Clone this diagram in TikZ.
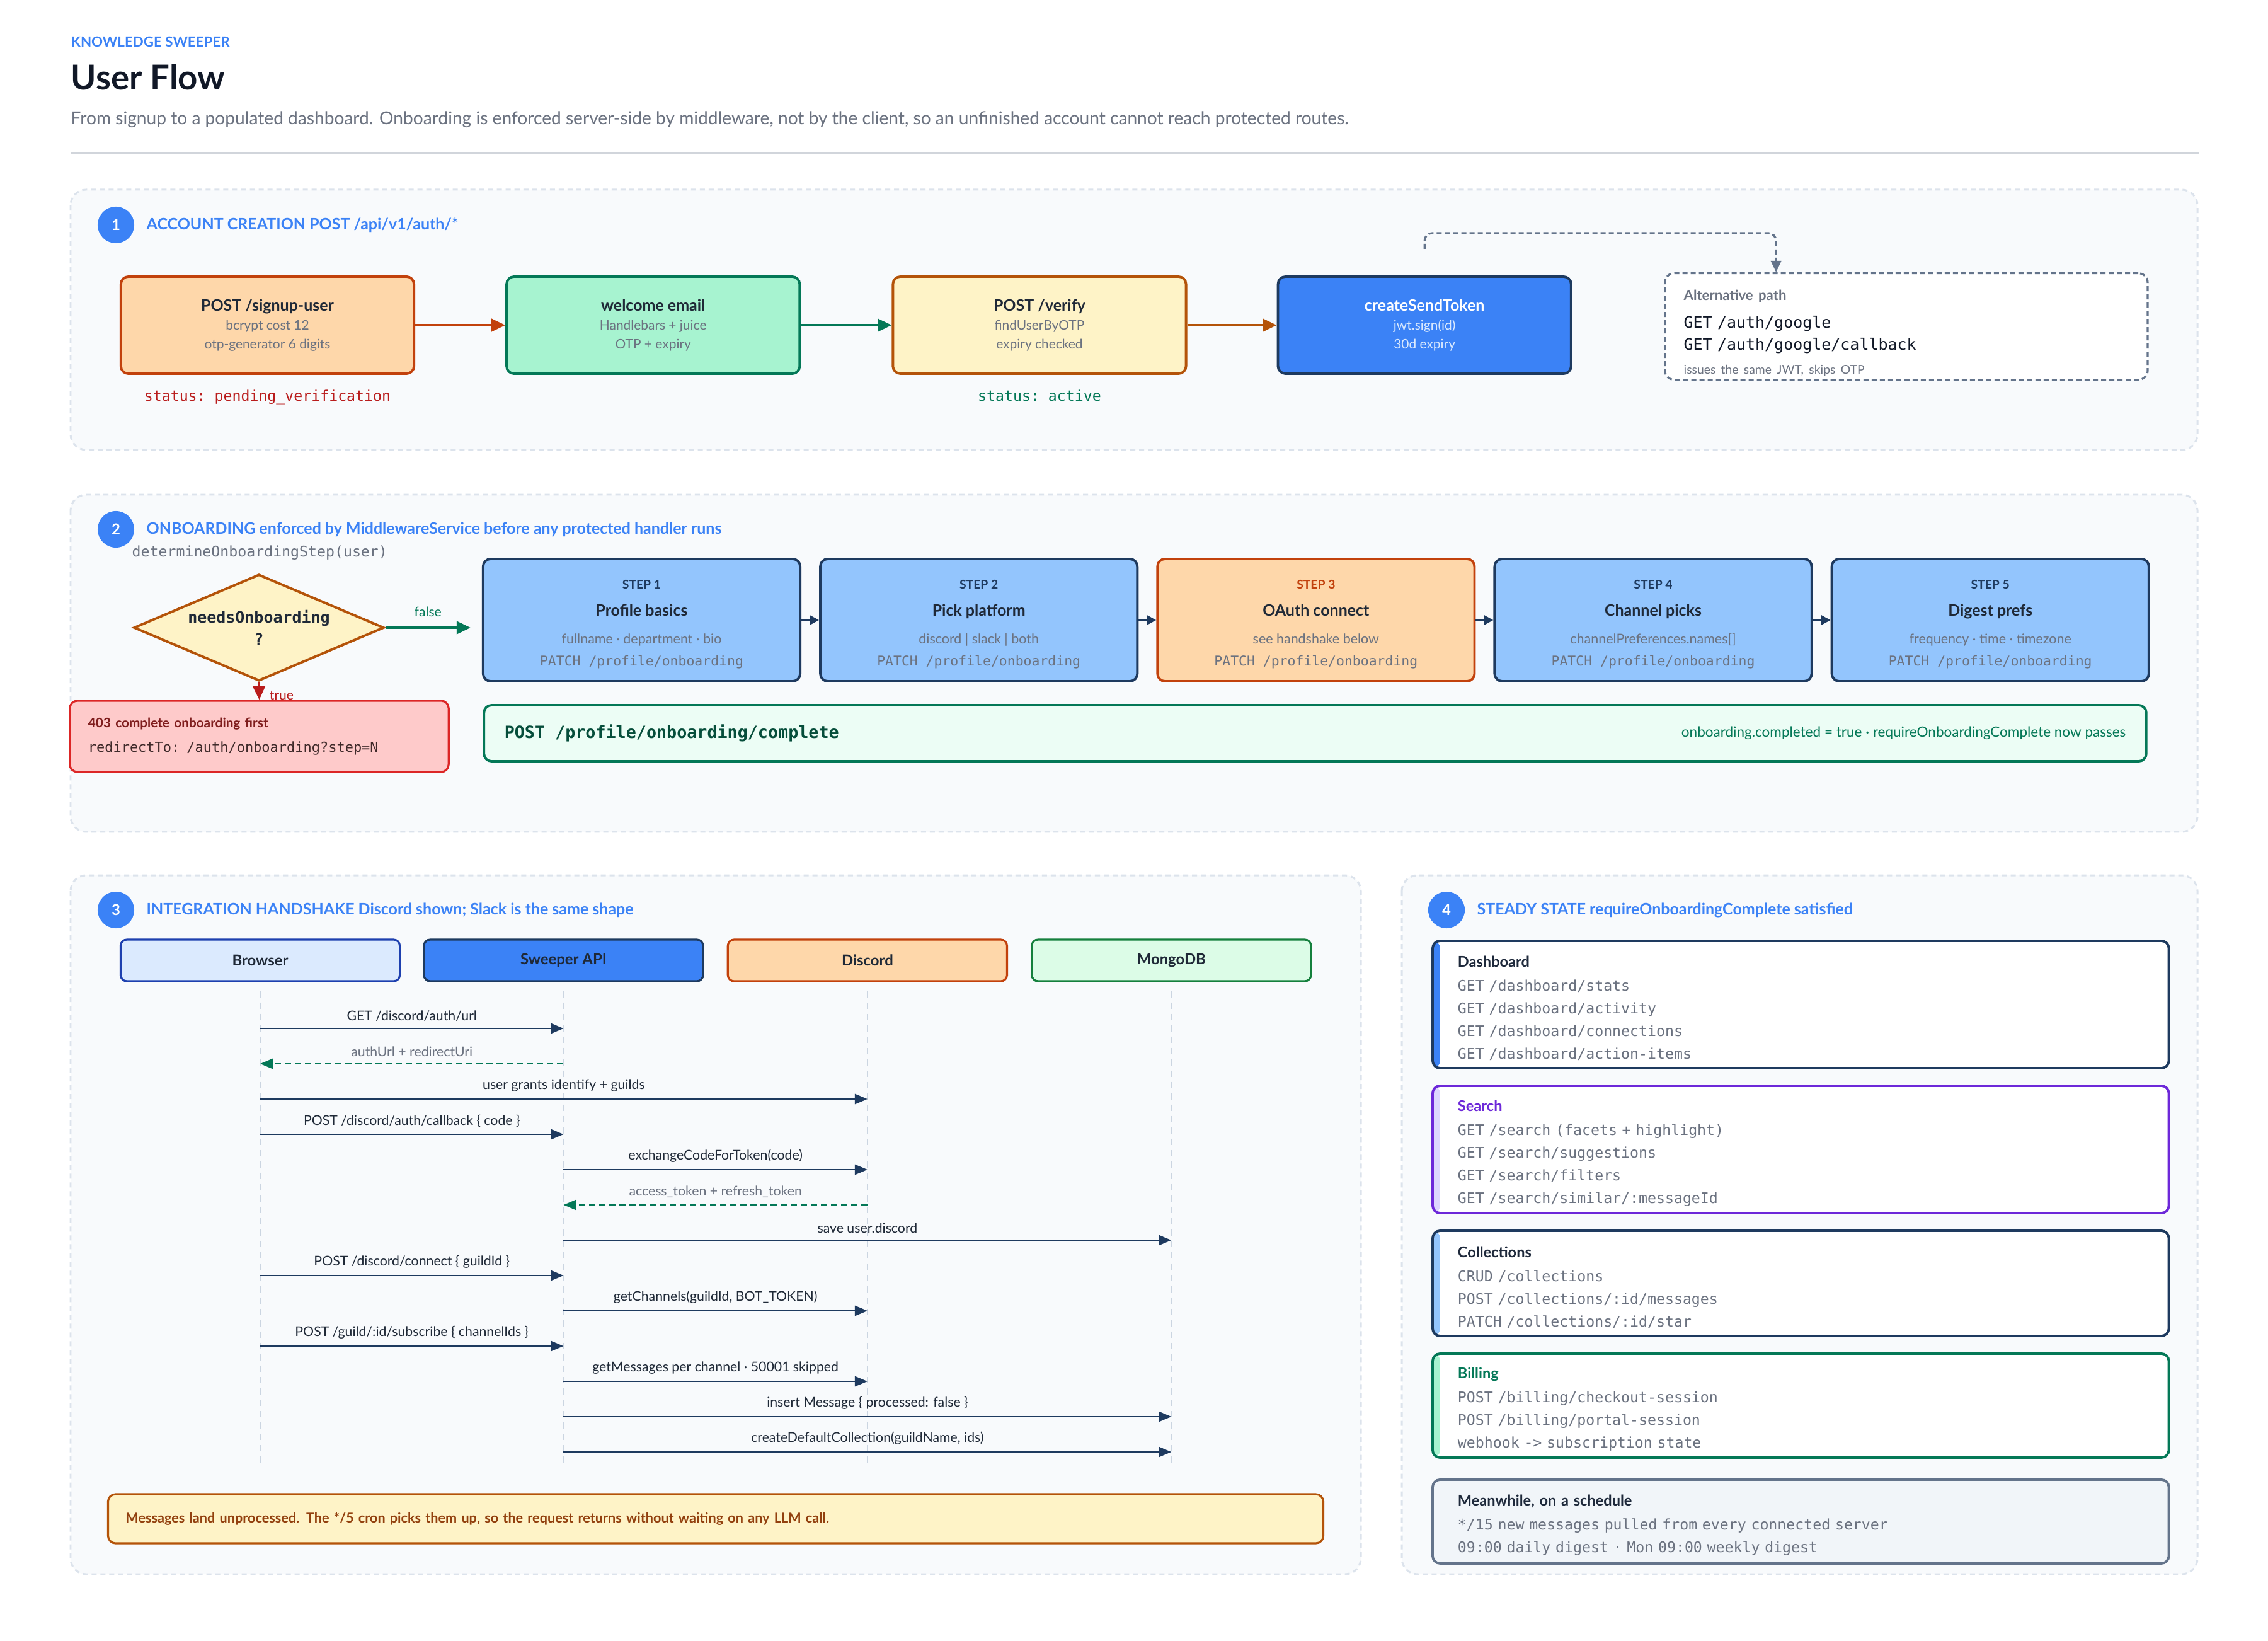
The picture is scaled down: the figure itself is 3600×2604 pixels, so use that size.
\documentclass[tikz,border=0pt]{standalone}
\usepackage{fontspec}
\setmainfont{Lato}
\setmonofont{DejaVu Sans Mono}
\usepackage{xcolor}
\usepackage{tikz}
\usetikzlibrary{arrows.meta, positioning, shapes.geometric, calc}

\definecolor{accent}{HTML}{3B82F6}
\definecolor{ink}{HTML}{1F2937}
\definecolor{titleink}{HTML}{111827}
\definecolor{cardink}{HTML}{1E293B}
\definecolor{muted}{HTML}{6B7280}
\definecolor{navy}{HTML}{1E3A5F}
\definecolor{rulegray}{HTML}{D1D5DB}
\definecolor{panelbg}{HTML}{F8FAFC}
\definecolor{panelln}{HTML}{DCE3EC}
\definecolor{orgfill}{HTML}{FED7AA}
\definecolor{orgline}{HTML}{C2410C}
\definecolor{mintfill}{HTML}{A7F3D0}
\definecolor{grnline}{HTML}{047857}
\definecolor{ambfill}{HTML}{FEF3C7}
\definecolor{ambline}{HTML}{B45309}
\definecolor{stepfill}{HTML}{93C5FD}
\definecolor{redfill}{HTML}{FECACA}
\definecolor{redline}{HTML}{DC2626}
\definecolor{redtxt}{HTML}{B91C1C}
\definecolor{denyttl}{HTML}{7F1D1D}
\definecolor{denyink}{HTML}{3F2A2A}
\definecolor{tokensub}{HTML}{DBEAFE}
\definecolor{donefill}{HTML}{ECFDF5}
\definecolor{doneink}{HTML}{064E3B}
\definecolor{brwfill}{HTML}{DBEAFE}
\definecolor{brwline}{HTML}{1E40AF}
\definecolor{mdbfill}{HTML}{DCFCE7}
\definecolor{mdbline}{HTML}{15803D}
\definecolor{noteink}{HTML}{92400E}
\definecolor{schedfill}{HTML}{F1F5F9}
\definecolor{slate}{HTML}{64748B}
\definecolor{lifeln}{HTML}{CBD5E1}
\definecolor{srchline}{HTML}{6D28D9}
\definecolor{srchbar}{HTML}{DDD6FE}

\newcommand\fsz[2]{\fontsize{#1}{#2}\selectfont}
\newcommand\subln[2][muted]{{\fsz{5.95}{8.5}\mdseries\color{#1}#2}}
\newcommand\steplbl[2][navy]{{\rule{0pt}{8pt}\fsz{5.5}{8}\bfseries\color{#1}#2}}
\newcommand\stepsub[1]{{\fsz{6.1}{8}\mdseries\color{muted}#1}}
\newcommand\monoln[1]{{\fsz{6.1}{8}\mdseries\ttfamily\color{muted}#1}}
\newcommand\cardttl[2][cardink]{{\rule{0pt}{8.4pt}\fsz{6.7}{10}\rmfamily\bfseries\color{#1}#2}}

\begin{document}
\begin{tikzpicture}[
  x=0.01cm, y=-0.01cm,
  every node/.style = {text=ink, font=\fsz{6}{8}},
  panel/.style = {draw=panelln, fill=panelbg, line width=0.85pt,
    dash pattern=on 0.08cm off 0.06cm, rounded corners=0.25cm},
  badge/.style = {circle, fill=accent, text=white, minimum size=0.58cm,
    inner sep=0, font=\fsz{6.8}{8}\bfseries},
  sechead/.style = {anchor=west, inner sep=0, text=accent, font=\fsz{7.1}{8}\bfseries},
  flowbox/.style = {rectangle, rounded corners=0.12cm, line width=1.1pt,
    minimum width=4.65cm, minimum height=1.54cm, align=center,
    font=\fsz{7.1}{8.5}\bfseries},
  status/.style = {inner sep=0, font=\fsz{6.6}{8}\ttfamily},
  flowarr/.style = {-{Triangle[length=0.22cm, width=0.2cm]}, line width=1.1pt},
  altbox/.style = {rectangle, rounded corners=0.15cm, draw=slate, fill=white,
    line width=0.9pt, dash pattern=on 0.08cm off 0.05cm,
    minimum width=7.66cm, minimum height=1.69cm, inner xsep=0.3cm, inner ysep=0,
    text width=7.06cm, align=left, font=\fsz{7.1}{10}\ttfamily, text=titleink},
  altarr/.style = {-{Triangle[length=0.18cm, width=0.16cm]}, draw=slate,
    line width=0.9pt, dash pattern=on 0.08cm off 0.05cm, rounded corners=0.12cm},
  decision/.style = {diamond, aspect=2.35, fill=ambfill, draw=ambline, line width=1.1pt,
    minimum width=3.97cm, minimum height=1.69cm, inner sep=0, align=center,
    font=\fsz{7.1}{10}\ttfamily\bfseries},
  stepbox/.style = {rectangle, rounded corners=0.12cm, line width=1.1pt,
    fill=stepfill, draw=navy, minimum width=5.03cm, minimum height=1.94cm,
    align=center, font=\fsz{7.1}{12.2}\bfseries},
  steparr/.style = {-{Triangle[length=0.15cm, width=0.15cm]}, line width=1.1pt, navy},
  actor/.style = {rectangle, rounded corners=0.1cm, line width=0.9pt,
    minimum width=4.43cm, minimum height=0.66cm, font=\fsz{6.8}{8}\bfseries},
  lifeline/.style = {draw=lifeln, line width=0.55pt, dash pattern=on 0.1cm off 0.08cm},
  msg/.style = {-{Triangle[length=0.2cm, width=0.16cm]}, line width=0.75pt, navy},
  reply/.style = {msg, grnline, dash pattern=on 0.1cm off 0.06cm},
  msglbl/.style = {above, inner sep=0.1cm, font=\fsz{6.05}{7}, text=ink},
  card/.style = {rectangle, rounded corners=0.12cm, fill=white, line width=1.1pt,
    text width=10.88cm, inner xsep=0.4cm, inner ysep=0.1cm, align=left,
    font=\fsz{6.6}{10.2}\ttfamily, text=muted},
  cardbar/.style = {path picture={\fill[#1] (path picture bounding box.north west)
    rectangle ([xshift=0.12cm]path picture bounding box.south west);}}
]

% Page
\fill[white] (0,0) rectangle (3600,2604);
\useasboundingbox (0,0) rectangle (3600,2604);

% Header
\node[anchor=base west, inner sep=0, font=\fsz{6.35}{7}\bfseries, text=accent] (kicker) at (112,75) {KNOWLEDGE SWEEPER};
\node[anchor=base west, inner sep=0, font=\fsz{15.5}{17}\bfseries, text=titleink] (title) at (112,143) {User Flow};
\node[anchor=base west, inner sep=0, font=\fsz{8}{9}, text=muted] (subtitle) at (112,198) {From signup to a populated dashboard. Onboarding is enforced server-side by middleware, not by the client, so an unfinished account cannot reach protected routes.};
\draw[line width=0.9pt, draw=rulegray] (112,243) -- (3490,243);

% Panels
\draw[panel] (112,301) rectangle (3488,714);
\draw[panel] (112,785) rectangle (3488,1320);
\draw[panel] (112,1389) rectangle (2160,2498);
\draw[panel] (2225,1389) rectangle (3488,2498);

% 1 - account creation
\node[badge] (b1) at (184,357) {1};
\node[sechead] (h1) at (232,357) {ACCOUNT CREATION POST /api/v1/auth/*};

\node[flowbox, fill=orgfill, draw=orgline] (signup) at (424.5,516) {POST /signup-user\\\subln{bcrypt cost 12}\\\subln{otp-generator 6 digits}};
\node[flowbox, fill=mintfill, draw=grnline, right=1.43cm of signup] (welcome) {welcome email\\\subln{Handlebars + juice}\\\subln{OTP + expiry}};
\node[flowbox, fill=ambfill, draw=ambline, right=1.44cm of welcome] (verify) {POST /verify\\\subln{findUserByOTP}\\\subln{expiry checked}};
\node[flowbox, fill=accent, draw=navy, text=white, right=1.42cm of verify] (token) {createSendToken\\\subln[tokensub]{jwt.sign(id)}\\\subln[tokensub]{30d expiry}};

\node[status, text=redtxt, below=0.235cm of signup] (pending) {status: pending\_verification};
\node[status, text=grnline, below=0.235cm of verify] (active) {status: active};

\node[altbox, anchor=north west] (alt) at (2641,432) {{\rule{0pt}{10.6pt}\fsz{6.3}{10}\rmfamily\bfseries\color{muted}Alternative path}\\[2.5pt]GET /auth/google\\GET /auth/google/callback\\[0.8pt]{\fsz{5.5}{10}\rmfamily\color{muted}issues the same JWT, skips OTP}};

\draw[flowarr, orgline] (signup) -- (welcome);
\draw[flowarr, grnline] (welcome) -- (verify);
\draw[flowarr, ambline] (verify) -- (token);
\coordinate (altstart) at ([yshift=0.42cm]token.north);
\draw[altarr] (altstart) -- ++(0,-25) -| ([xshift=1.78cm]alt.north west);

% 2 - onboarding
\node[badge] (b2) at (184,840) {2};
\node[sechead] (h2) at (232,840) {ONBOARDING enforced by MiddlewareService before any protected handler runs};
\node[anchor=west, inner sep=0, font=\fsz{6.6}{8}\ttfamily, text=muted] (detstep) at (209,877) {determineOnboardingStep(user)};

\node[decision] (dec) at (411,996) {needsOnboarding\\?};
\node[rectangle, rounded corners=0.12cm, fill=redfill, draw=redline, line width=0.9pt,
  minimum width=6.01cm, minimum height=1.13cm, inner xsep=0.29cm, text width=5.43cm,
  align=left, font=\fsz{6.25}{11}\ttfamily, text=denyink] (deny) at (411.5,1168.5)
  {{\fsz{5.9}{11}\rmfamily\bfseries\color{denyttl}403 complete onboarding first}\\redirectTo: /auth/onboarding?step=N};

\node[stepbox] (s1) at (1018.5,984) {\steplbl{STEP 1}\\Profile basics\\[0.2pt]\stepsub{fullname · department · bio}\\[-2pt]\monoln{PATCH /profile/onboarding}};
\node[stepbox, right=0.28cm of s1] (s2) {\steplbl{STEP 2}\\Pick platform\\[0.2pt]\stepsub{discord | slack | both}\\[-2pt]\monoln{PATCH /profile/onboarding}};
\node[stepbox, fill=orgfill, draw=orgline, right=0.28cm of s2] (s3) {\steplbl[orgline]{STEP 3}\\OAuth connect\\[0.2pt]\stepsub{see handshake below}\\[-2pt]\monoln{PATCH /profile/onboarding}};
\node[stepbox, right=0.28cm of s3] (s4) {\steplbl{STEP 4}\\Channel picks\\[0.2pt]\stepsub{channelPreferences.names[]}\\[-2pt]\monoln{PATCH /profile/onboarding}};
\node[stepbox, right=0.28cm of s4] (s5) {\steplbl{STEP 5}\\Digest prefs\\[0.2pt]\stepsub{frequency · time · timezone}\\[-2pt]\monoln{PATCH /profile/onboarding}};

\node[rectangle, rounded corners=0.12cm, fill=donefill, draw=grnline, line width=1.1pt,
  minimum width=26.37cm, minimum height=0.89cm] (done) at (2087.5,1163.5) {};
\node[anchor=west, font=\fsz{7.6}{9}\ttfamily\bfseries, text=doneink] (donepost) at ([xshift=0.22cm]done.west) {POST /profile/onboarding/complete};
\node[anchor=east, font=\fsz{6.4}{7}, text=grnline] (donenote) at ([xshift=-0.22cm]done.east) {onboarding.completed = true · requireOnboardingComplete now passes};

\draw[flowarr, grnline] (dec.east) -- node[above, inner sep=0.15cm, font=\fsz{6}{7}, text=grnline] {false} ([xshift=-0.18cm]s1.west |- dec.east);
\draw[flowarr, redtxt, line width=0.9pt] (dec.south) -- node[near end, right, inner sep=0.15cm, font=\fsz{6}{7}, text=redtxt] {true} (deny.north);
\draw[steparr] (s1) -- (s2);
\draw[steparr] (s2) -- (s3);
\draw[steparr] (s3) -- (s4);
\draw[steparr] (s4) -- (s5);

% 3 - integration handshake
\node[badge] (b3) at (184,1444) {3};
\node[sechead] (h3) at (232,1444) {INTEGRATION HANDSHAKE Discord shown; Slack is the same shape};

\node[actor, fill=brwfill, draw=brwline] (brw) at (413,1524) {Browser};
\node[actor, fill=accent, draw=navy, right=0.35cm of brw] (api) {Sweeper API};
\node[actor, fill=orgfill, draw=orgline, right=0.36cm of api] (dsc) {Discord};
\node[actor, fill=mdbfill, draw=mdbline, right=0.36cm of dsc] (mdb) {MongoDB};

\coordinate (seqend) at (0,2328);
\foreach \p in {brw,api,dsc,mdb}
  \draw[lifeline] ([yshift=-0.14cm]\p.south) -- (\p |- seqend);

\draw[msg] (brw |- 0,1632) -- node[msglbl] {GET /discord/auth/url} (api |- 0,1632);
\draw[reply] (api |- 0,1688) -- node[msglbl, text=muted] {authUrl + redirectUri} (brw |- 0,1688);
\draw[msg] (brw |- 0,1744) -- node[msglbl] {user grants identify + guilds} (dsc |- 0,1744);
\draw[msg] (brw |- 0,1800) -- node[msglbl] {POST /discord/auth/callback \{ code \}} (api |- 0,1800);
\draw[msg] (api |- 0,1856) -- node[msglbl] {exchangeCodeForToken(code)} (dsc |- 0,1856);
\draw[reply] (dsc |- 0,1912) -- node[msglbl, text=muted] {access\_token + refresh\_token} (api |- 0,1912);
\draw[msg] (api |- 0,1968) -- node[msglbl] {save user.discord} (mdb |- 0,1968);
\draw[msg] (brw |- 0,2024) -- node[msglbl] {POST /discord/connect \{ guildId \}} (api |- 0,2024);
\draw[msg] (api |- 0,2080) -- node[msglbl] {getChannels(guildId, BOT\_TOKEN)} (dsc |- 0,2080);
\draw[msg] (brw |- 0,2136) -- node[msglbl] {POST /guild/:id/subscribe \{ channelIds \}} (api |- 0,2136);
\draw[msg] (api |- 0,2192) -- node[msglbl] {getMessages per channel · 50001 skipped} (dsc |- 0,2192);
\draw[msg] (api |- 0,2248) -- node[msglbl] {insert Message \{ processed: false \}} (mdb |- 0,2248);
\draw[msg] (api |- 0,2304) -- node[msglbl] {createDefaultCollection(guildName, ids)} (mdb |- 0,2304);

\node[rectangle, rounded corners=0.12cm, fill=ambfill, draw=ambline, line width=0.9pt,
  minimum width=19.28cm, minimum height=0.78cm, inner xsep=0.28cm, text width=18.72cm,
  align=left, font=\fsz{6.15}{7}\bfseries, text=noteink] (note) at (1136,2410)
  {Messages land unprocessed. The */5 cron picks them up, so the request returns without waiting on any LLM call.};

% 4 - steady state
\node[badge] (b4) at (2296,1444) {4};
\node[sechead] (h4) at (2344,1444) {STEADY STATE requireOnboardingComplete satisfied};

\node[card, draw=navy, cardbar=accent, minimum height=2.02cm, anchor=north west] (dashb) at (2272,1491)
  {\cardttl{Dashboard}\\[0.6pt]GET /dashboard/stats\\GET /dashboard/activity\\GET /dashboard/connections\\GET /dashboard/action-items};
\node[card, draw=srchline, cardbar=srchbar, minimum height=2.02cm, below=0.24cm of dashb] (search)
  {\cardttl[srchline]{Search}\\[0.6pt]GET /search (facets + highlight)\\GET /search/suggestions\\GET /search/filters\\GET /search/similar/:messageId};
\node[card, draw=navy, cardbar=stepfill, minimum height=1.67cm, below=0.24cm of search] (colls)
  {\cardttl{Collections}\\[0.6pt]CRUD /collections\\POST /collections/:id/messages\\PATCH /collections/:id/star};
\node[card, draw=grnline, cardbar=mintfill, minimum height=1.65cm, below=0.24cm of colls] (billing)
  {\cardttl[grnline]{Billing}\\[0.6pt]POST /billing/checkout-session\\POST /billing/portal-session\\webhook -> subscription state};
\node[card, draw=slate, fill=schedfill, minimum height=1.33cm, below=0.31cm of billing] (sched)
  {\cardttl{Meanwhile, on a schedule}\\[0.6pt]*/15 new messages pulled from every connected server\\09:00 daily digest · Mon 09:00 weekly digest};

\end{tikzpicture}
\end{document}
